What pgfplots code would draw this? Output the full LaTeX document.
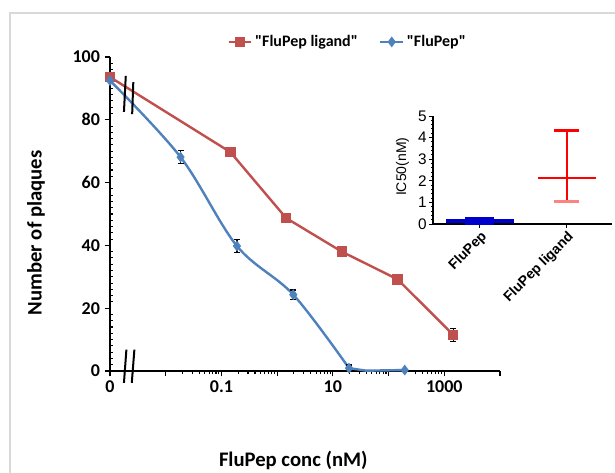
\documentclass[border=0pt]{standalone}
\usepackage{fontspec}
\setmainfont{Carlito}
\newfontfamily\arial{Liberation Sans}
\usepackage{pgfplots}
\pgfplotsset{compat=1.18}
\definecolor{ligred}{RGB}{192,80,77}
\definecolor{pepblue}{RGB}{79,129,189}
\definecolor{icred}{RGB}{255,0,0}
\definecolor{icpink}{RGB}{255,130,130}
\definecolor{icblue}{RGB}{0,0,205}
\begin{document}
\begin{tikzpicture}
\useasboundingbox (0,0) rectangle (461.25pt,354.75pt);
\draw[black!15, line width=0.8pt] (7.5pt,0) -- (7.5pt,345pt) -- (461.25pt,345pt);
\begin{axis}[
    name=main, at={(82.5pt,76.5pt)}, anchor=south west,
    scale only axis, width=292.5pt, height=235.5pt,
    xmode=log, xmin=1e-3, xmax=1e4, ymin=0, ymax=100,
    clip=false,
    axis x line=bottom, axis y line=left,
    axis line style={-, line width=1.1pt},
    xtick={1e-3,1e-2,0.1,1,10,100,1000,1e4},
    xticklabels={0,,0.1,,10,,1000,},
    minor xtick={0.02,0.03,0.04,0.05,0.06,0.07,0.08,0.09,
                 0.2,0.3,0.4,0.5,0.6,0.7,0.8,0.9,
                 2,3,4,5,6,7,8,9,20,30,40,50,60,70,80,90,
                 200,300,400,500,600,700,800,900},
    ytick={0,20,40,60,80,100},
    yticklabels={0,20,40,60,80,100},
    minor y tick num=9,
    tick align=outside, major tick length=4pt, minor tick length=2.5pt,
    minor y tick style={xshift=2.5pt},
    tick style={black, line width=0.8pt},
    ticklabel style={font=\fontsize{13.5}{16}\selectfont\bfseries},
    xlabel={FluPep conc (nM)},
    xlabel style={at={(axis description cs:0.47,-0.285)}, anchor=center,
                  font=\fontsize{15.5}{18}\selectfont\bfseries},
    ylabel={Number of plaques},
    ylabel style={at={(axis description cs:-0.19,0.44)}, anchor=center,
                  font=\fontsize{15.5}{18}\selectfont\bfseries},
    legend style={at={(axis description cs:0.61,1.048)}, anchor=center,
                  draw=none, fill=none, legend columns=2,
                  font=\fontsize{12}{14}\selectfont\bfseries,
                  /tikz/every even column/.append style={column sep=14pt}},
    error bars/error bar style={black, line width=0.9pt},
    error bars/error mark options={black, rotate=90, mark size=2.2pt, line width=0.9pt},
]
\addplot[ligred, line width=1.8pt, mark=square*, mark size=3pt,
    error bars/.cd, y dir=both, y explicit] coordinates {
(0.001,93.6) +- (0,0)
(0.145,69.7) +- (0,1.5)
(1.45,48.7) +- (0,1.5)
(14.5,38.0) +- (0,1.0)
(145,29.2) +- (0,1.2)
(1450,11.5) +- (0,2.0)
};
\addlegendentry{\textquotedbl FluPep ligand\textquotedbl}
\addplot[pepblue, line width=1.8pt, mark=diamond*, mark size=2.6pt, smooth, tension=0.55,
    error bars/.cd, y dir=both, y explicit] coordinates {
(0.001,92.5) +- (0,0)
(0.0185,68.1) +- (0,2.0)
(0.19,39.8) +- (0,2.0)
(1.95,24.3) +- (0,1.5)
(19.5,0.9) +- (0,1.0)
};
\addlegendentry{\textquotedbl FluPep\textquotedbl}
\addplot[pepblue, line width=1.8pt, mark=diamond*, mark size=2.6pt, mark indices={3},
    forget plot] coordinates {
(19.5,0.9)
(40,0.1)
(195,0.3)
};
\draw[line width=1.5pt] (axis cs:0.00178,-3.8) -- (axis cs:0.00197,6.8);
\draw[line width=1.5pt] (axis cs:0.00246,-3.8) -- (axis cs:0.00274,6.8);
\draw[line width=1.5pt] (axis cs:0.00178,82.5) -- (axis cs:0.00192,94.0);
\draw[line width=1.5pt] (axis cs:0.00250,81.8) -- (axis cs:0.00262,92.0);
\end{axis}
\begin{axis}[
    at={(324.75pt,186.75pt)}, anchor=south west,
    scale only axis, width=134.25pt, height=81pt,
    xmin=0.46, xmax=2.52, ymin=0, ymax=5,
    clip=false,
    axis x line=bottom, axis y line=left,
    axis line style={-, line width=0.8pt},
    xtick={1,2}, xticklabels={FluPep,FluPep ligand},
    xticklabel style={rotate=45, anchor=north east, inner sep=1pt,
                      font=\arial\bfseries\fontsize{10.5}{12}\selectfont},
    ytick={0,1,2,3,4,5}, yticklabels={0,1,2,3,4,5},
    yticklabel style={font=\arial\fontsize{11.5}{13}\selectfont, inner sep=1.5pt},
    minor y tick num=4,
    tick align=outside, major tick length=3pt, minor tick length=1.5pt,
    tick style={black, line width=0.7pt},
    ylabel={IC50(nM)},
    ylabel style={at={(axis description cs:-0.17,0.53)}, anchor=center,
                  font=\arial\fontsize{10.5}{12}\selectfont},
]
\addplot[icblue, line width=2.4pt, mark=-, mark size=25.5pt,
    error bars/.cd, y dir=both, y explicit,
    error bar style={icblue, line width=2.4pt},
    error mark options={icblue, rotate=90, mark size=10.9pt, line width=2.4pt}]
    coordinates {(1,0.14) += (0,0.12) -= (0,0.09)};
\addplot[icred, line width=1.8pt, mark=-, mark size=21.75pt,
    error bars/.cd, y dir=both, y explicit,
    error bar style={icred, line width=1.8pt},
    error mark options={icred, rotate=90, mark size=9.4pt, line width=1.8pt}]
    coordinates {(2,2.12) += (0,2.21)};
\addplot[icpink, line width=1.8pt, mark=-, mark size=9.4pt, forget plot]
    coordinates {(2,1.04)};
\addplot[icred, line width=1.8pt, forget plot] coordinates {(2,1.1) (2,2.12)};
\end{axis}
\end{tikzpicture}
\end{document}
